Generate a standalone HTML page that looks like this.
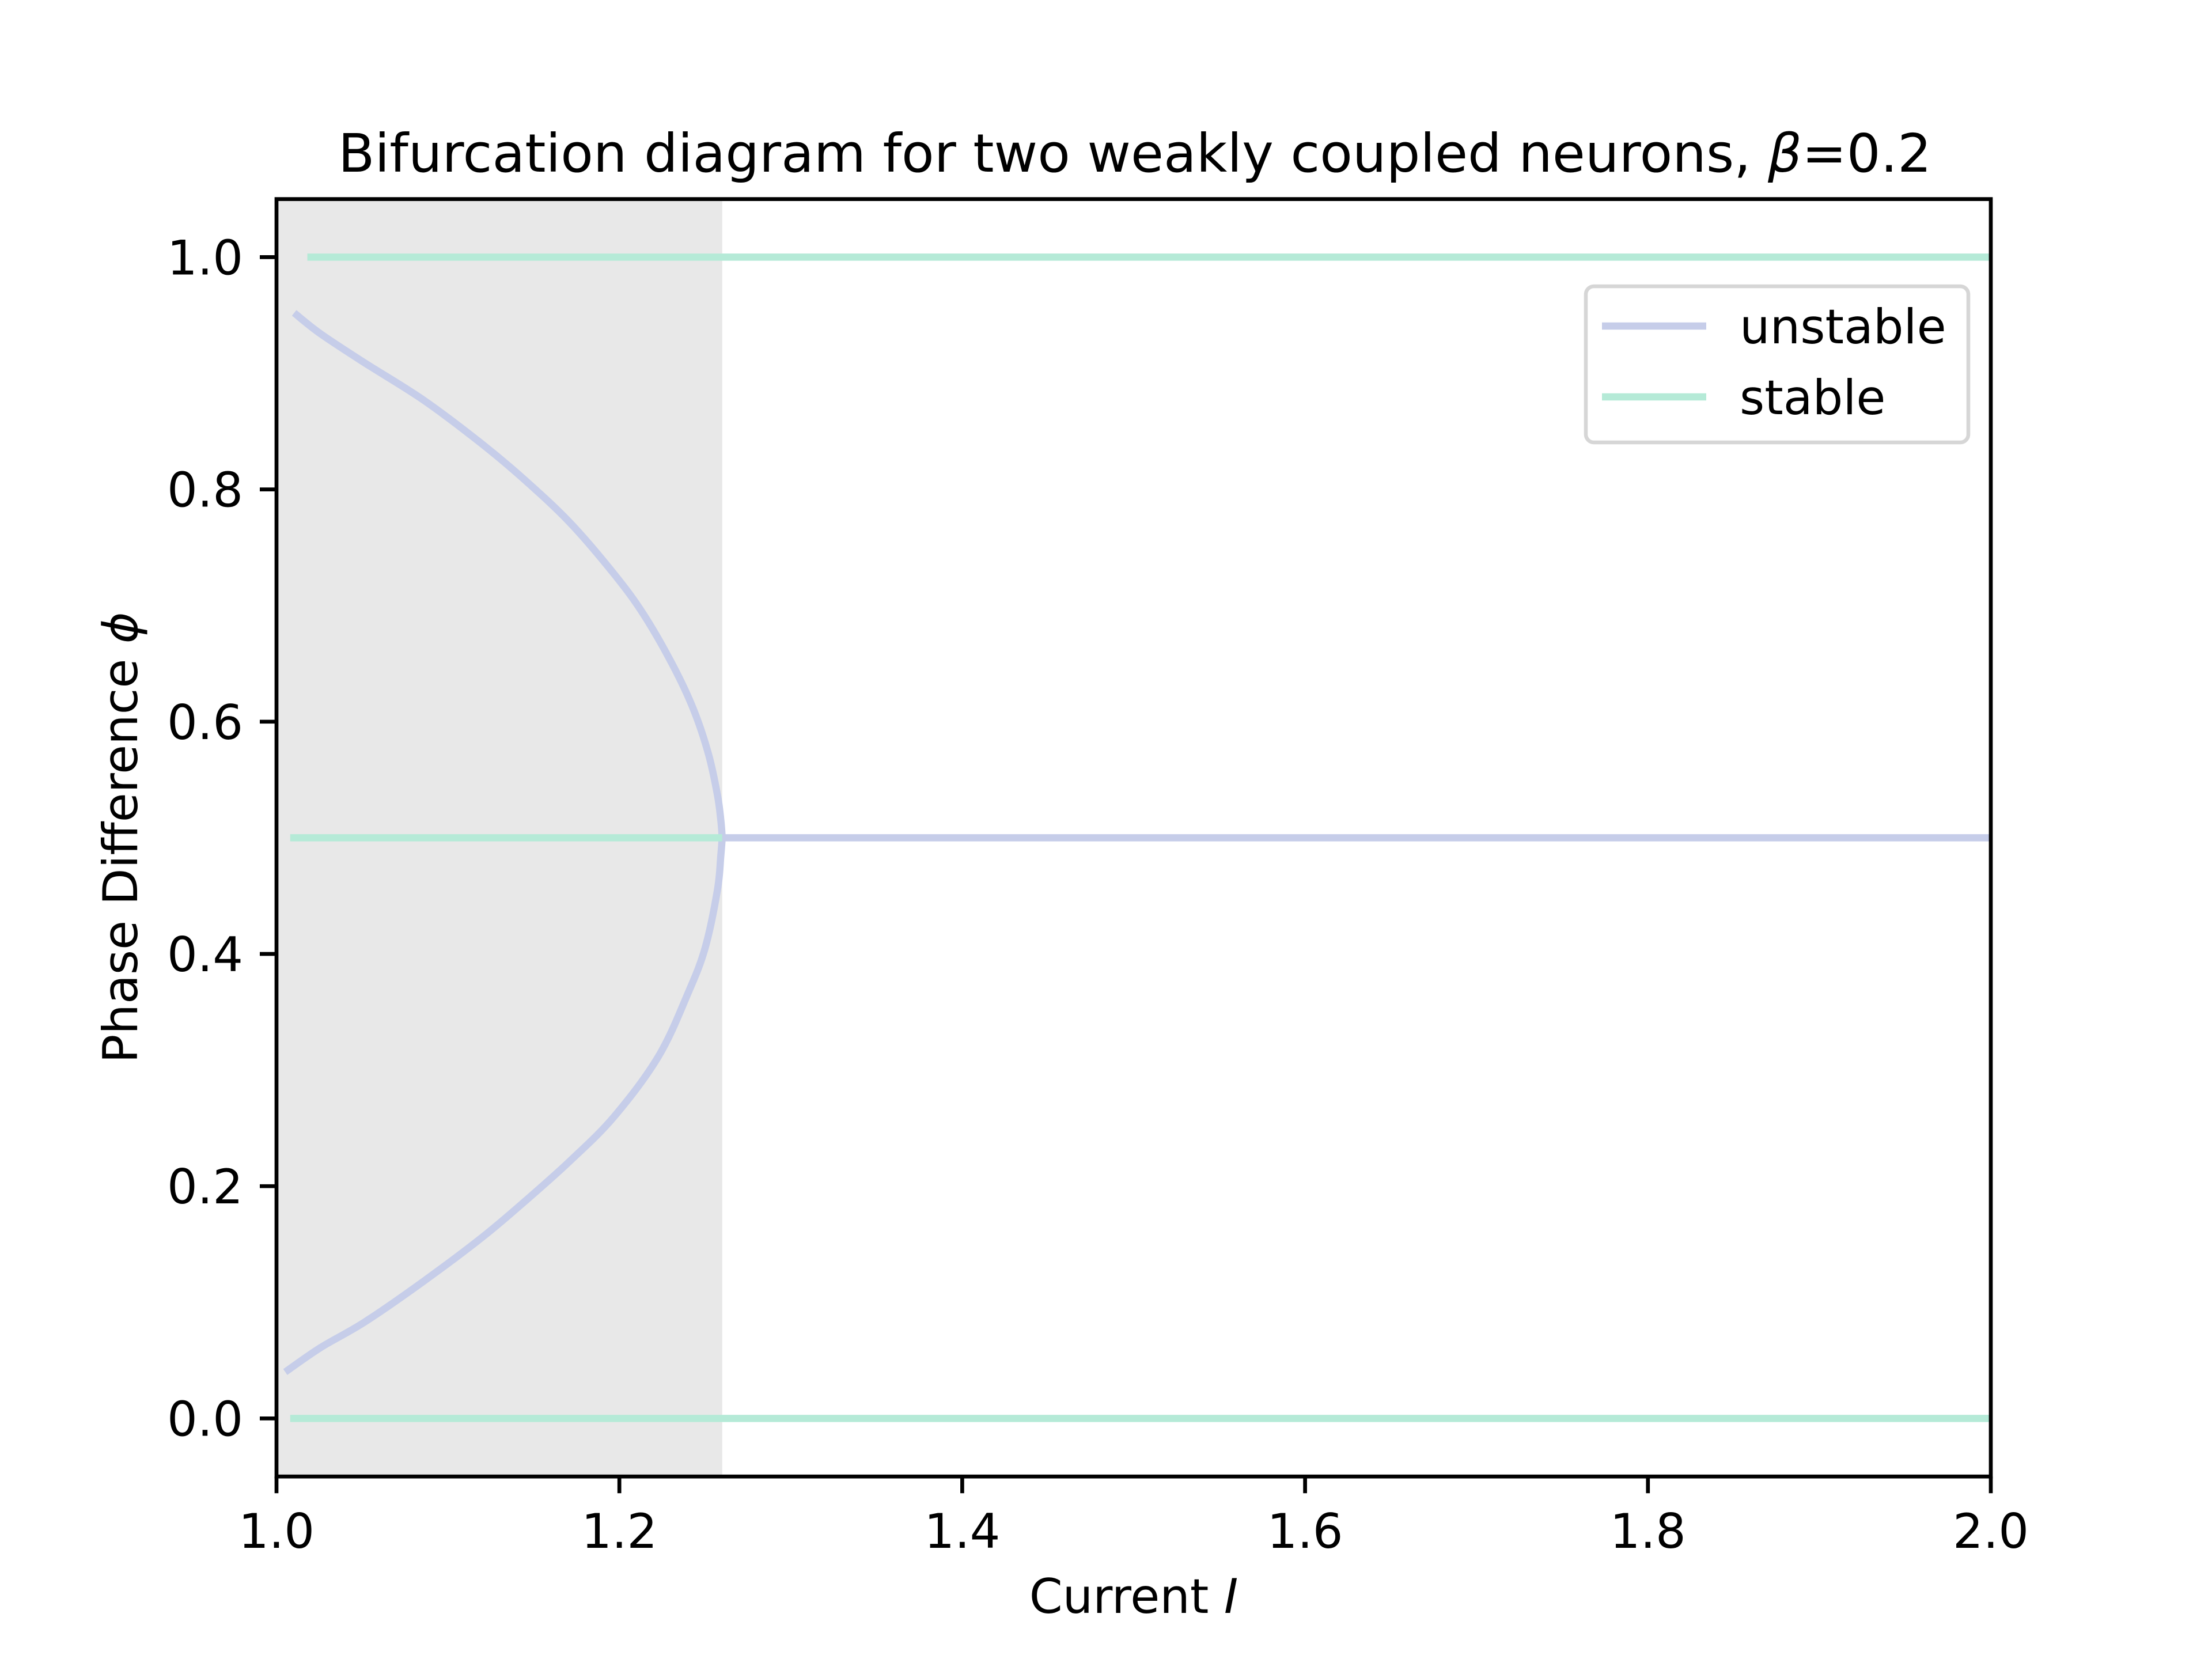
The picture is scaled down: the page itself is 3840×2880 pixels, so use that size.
<!DOCTYPE html>
<html><head><meta charset="utf-8"><style>
html,body{margin:0;padding:0;background:#fff}
svg{display:block;font-family:"DejaVu Sans","Liberation Sans",sans-serif}
</style></head><body>
<svg id="chart" xmlns="http://www.w3.org/2000/svg" width="3840" height="2880" viewBox="0 0 3840 2880">
<rect width="3840" height="2880" fill="#fff"/>
<g id="plot"></g>
<text x="1970" y="298" font-size="92" text-anchor="middle" textLength="2766" lengthAdjust="spacingAndGlyphs">Bifurcation diagram for two weakly coupled neurons, <tspan font-style="italic">β</tspan>=0.2</text>
<text x="1968" y="2800" font-size="83" text-anchor="middle">Current <tspan font-style="italic">I</tspan></text>
<text transform="translate(238,1454) rotate(-90)" font-size="83" text-anchor="middle">Phase Difference <tspan font-style="italic">ϕ</tspan></text>
<g>
<rect x="2753" y="497" width="664" height="271" rx="14" fill="#fff" stroke="#d6d6d6" stroke-width="6.5"/>
<line x1="2781" y1="566" x2="2962" y2="566" stroke="#c6cde9" stroke-width="12.5"/>
<text x="3020" y="596" font-size="83">unstable</text>
<line x1="2781" y1="689" x2="2962" y2="689" stroke="#b5ead7" stroke-width="12.5"/>
<text x="3020" y="719" font-size="83">stable</text>
</g>
</svg>
<script>
const xTicks=[1.0,1.2,1.4,1.6,1.8,2.0];
const xTickLabels=["1.0","1.2","1.4","1.6","1.8","2.0"];
const yTicks=[0.0,0.2,0.4,0.6,0.8,1.0];
const yTickLabels=["0.0","0.2","0.4","0.6","0.8","1.0"];
const shadeRange=[1.0,1.26];
const stableSegments=[[1.018,2.0,1.0],[1.008,1.26,0.5],[1.008,2.0,0.0]];
const unstableFlat=[[1.26,2.0,0.5]];
const upperX=[1.0103,1.0257,1.0514,1.0857,1.12,1.1457,1.1714,1.197,1.2143,1.2314,1.2434,1.252,1.2572,1.2592,1.26];
const upperY=[0.952,0.934,0.909,0.877,0.839,0.807,0.771,0.727,0.692,0.648,0.610,0.572,0.537,0.515,0.5];
const lowerX=[1.26,1.2592,1.2572,1.2500,1.240,1.2229,1.197,1.1714,1.1457,1.12,1.0857,1.0514,1.0257,1.0051];
const lowerY=[0.5,0.485,0.455,0.405,0.366,0.312,0.260,0.222,0.188,0.156,0.118,0.083,0.061,0.040];
const L=480,R=3456,T=345.6,B=2563.2,xmin=1.0,xmax=2.0,ymin=-0.05,ymax=1.05;
const sx=v=>L+(v-xmin)/(xmax-xmin)*(R-L);
const sy=v=>B-(v-ymin)/(ymax-ymin)*(B-T);
const NS="http://www.w3.org/2000/svg";
const g=document.getElementById('plot');
function mk(t,a){const e=document.createElementNS(NS,t);for(const k in a)e.setAttribute(k,a[k]);g.appendChild(e);return e;}
let e=mk('rect',{x:sx(shadeRange[0]),y:T,width:sx(shadeRange[1])-sx(shadeRange[0]),height:B-T,fill:'#e8e8e8'});


function smoothPath(pts){let d='M'+pts[0][0]+','+pts[0][1];
for(let i=0;i<pts.length-1;i++){const p0=pts[i-1]||pts[i],p1=pts[i],p2=pts[i+1],p3=pts[i+2]||p2;
const c1=[p1[0]+(p2[0]-p0[0])/6,p1[1]+(p2[1]-p0[1])/6],c2=[p2[0]-(p3[0]-p1[0])/6,p2[1]-(p3[1]-p1[1])/6];
d+=' C'+c1[0]+','+c1[1]+' '+c2[0]+','+c2[1]+' '+p2[0]+','+p2[1];}return d;}
function curve(xs,ys,name){const pts=xs.map((x,i)=>[sx(x),sy(ys[i])]);
const p=mk('path',{d:smoothPath(pts),fill:'none',stroke:'#c6cde9','stroke-width':12.5});

}
curve(upperX,upperY,'unstable-upper-branch');
curve(lowerX,lowerY,'unstable-lower-branch');
unstableFlat.forEach(s=>{const l=mk('line',{x1:sx(s[0]),x2:sx(s[1]),y1:sy(s[2]),y2:sy(s[2]),stroke:'#c6cde9','stroke-width':12.5});

});
stableSegments.forEach((s,i)=>{const l=mk('line',{x1:sx(s[0]),x2:sx(s[1]),y1:sy(s[2]),y2:sy(s[2]),stroke:'#b5ead7','stroke-width':12.5});

});
const fr=mk('rect',{x:L,y:T,width:R-L,height:B-T,fill:'none',stroke:'#000','stroke-width':6.7});


xTicks.forEach((v,i)=>{const t=mk('line',{x1:sx(v),x2:sx(v),y1:B,y2:B+29,stroke:'#000','stroke-width':6.7});


const tx=mk('text',{x:sx(v),y:2687,'font-size':83,'text-anchor':'middle'});tx.textContent=xTickLabels[i];

});
yTicks.forEach((v,i)=>{const t=mk('line',{x1:L-29,x2:L,y1:sy(v),y2:sy(v),stroke:'#000','stroke-width':6.7});


const tx=mk('text',{x:L-58,y:sy(v)+30,'font-size':83,'text-anchor':'end'});tx.textContent=yTickLabels[i];

});
</script>
</body></html>
